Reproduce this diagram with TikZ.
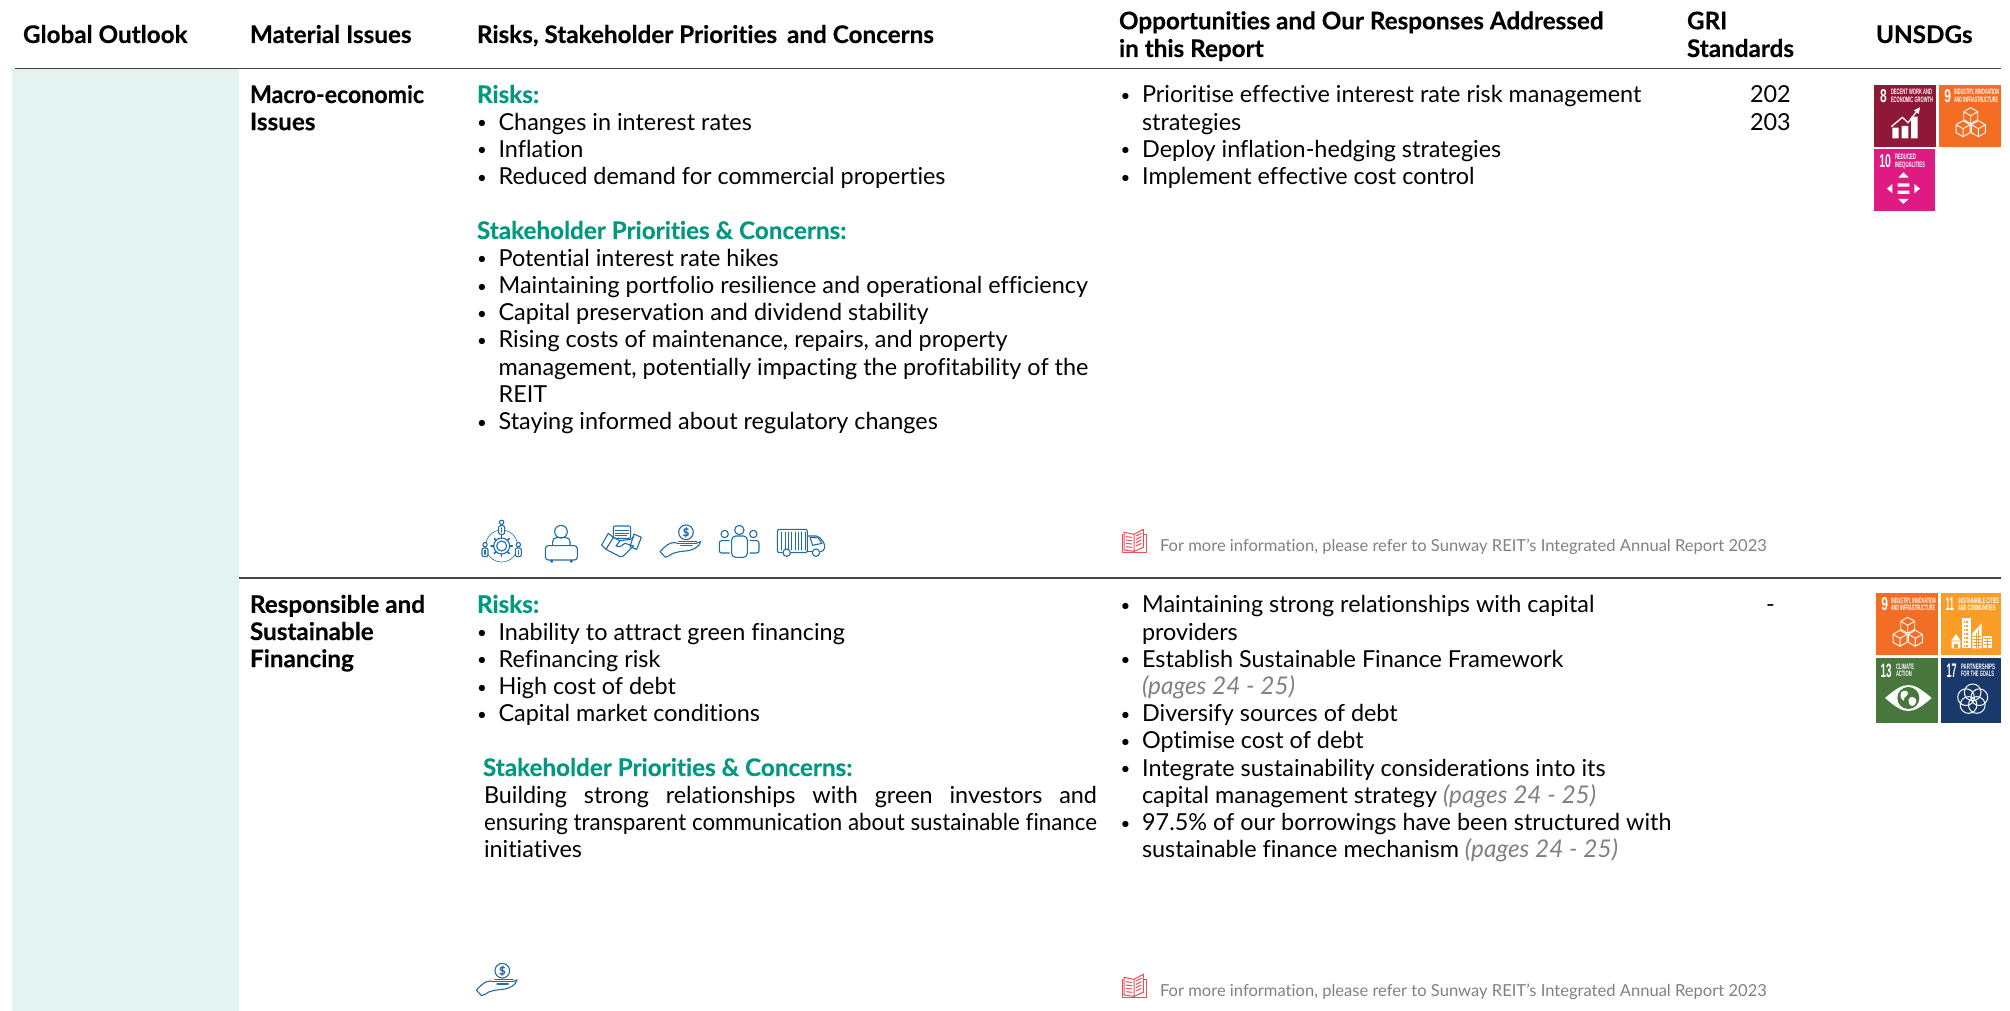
\documentclass[tikz,border=0pt]{standalone}
\usepackage{fontspec}
\setmainfont{Lato}[Ligatures=NoCommon,BoldFeatures={FakeBold=0.3}]
\newfontfamily\tilefont{Liberation Sans}
\definecolor{panelgreen}{HTML}{E4F3EF}
\definecolor{teal}{HTML}{00997F}
\definecolor{rulegrey}{HTML}{444444}
\definecolor{iconblue}{HTML}{1F6BA8}
\definecolor{bookred}{HTML}{EE4B55}
\definecolor{notegrey}{HTML}{808080}
\definecolor{sdgviii}{HTML}{8F1838}
\definecolor{sdgix}{HTML}{F36D25}
\definecolor{sdgx}{HTML}{E01A83}
\definecolor{sdgxi}{HTML}{F99D26}
\definecolor{sdgxiii}{HTML}{48773E}
\definecolor{sdgxvii}{HTML}{19396A}
\tikzset{
  txt/.style={anchor=base west,inner sep=0pt,outer sep=0pt,text=black,yshift=-1.5pt,font=\fontsize{23.4}{27}\selectfont},
  head/.style={txt,font=\fontsize{24.25}{27}\selectfont\bfseries},
  grn/.style={txt,text=teal,font=\fontsize{24.25}{27}\selectfont\bfseries},
  note/.style={txt,text=notegrey,yshift=1pt,font=\fontsize{16.55}{20}\selectfont},
  tile/.style={anchor=north west,inner sep=0pt,outer sep=0pt,draw=none},
  tiletxt/.style={anchor=base west,inner sep=0pt,outer sep=0pt,text=white,font=\tilefont\bfseries},
  rulel/.style={draw=rulegrey,line width=1.4pt},
  ico/.style={draw=iconblue,line width=1.1pt,line join=round,line cap=round},
  book/.style={draw=bookred,line width=1pt,line join=round},
  whl/.style={draw=white,line width=0.9pt},
}
% text line
\newcommand\tl[5][txt]{\node[#1] (#2) at (#3,#4) {#5};}
% bullet line
\newcommand\bl[4]{\node[txt] (#1) at (#2,#3) {\makebox[21.6pt][l]{\raisebox{1.4pt}{\scalebox{.72}{•}}}#4};}
\newcommand\pg{\textcolor{notegrey}{\fontsize{24.4}{27}\selectfont\itshape(pages 24 - 25)}}
% tile
\newcommand\tilebox[6]{\node[tile,fill=#6,minimum width=#4pt,minimum height=#5pt] (#1) at (#2,#3) {};}
\newcommand\ttx[6]{\node[tiletxt] (#1) at (#2,#3) {\resizebox{#4pt}{#5pt}{#6}};}
\newcommand\cubeat[2]{%
 \begin{scope}[shift={(#1,#2)}]
  \filldraw[fill=sdgix,draw=white,line width=0.9pt,line join=round] (0,-24)--(21,-12)--(21,12)--(0,24)--(-21,12)--(-21,-12)--cycle;
  \draw[whl] (-21,-12)--(0,0)--(21,-12) (0,0)--(0,24);
 \end{scope}}
\newcommand\cubes[2]{%
 \begin{scope}[shift={(#1,#2)},scale=1/3]
  \cubeat{0}{-21}\cubeat{-23}{18}\cubeat{23}{18}
 \end{scope}}
% hand with coin, local origin at the coin centre, zoom units
\newcommand\handcoin[3]{%
 \begin{scope}[shift={(#1,#2)},scale=1/3]
  \draw[ico] (0,0) circle (22);
  \draw[ico] (-22,27)--(32,27) (-24,33)--(30,33) (-16,40)--(18,40);
  \draw[ico] (-78,58) .. controls (-60,40) and (-50,30) .. (-35,31)
     -- (-24,33) (44,28) .. controls (40,45) and (20,52) .. (8,55)
     .. controls (-20,58) and (-40,60) .. (-50,70) -- (-62,75) -- (-78,58);
  \draw[ico] (30,33)--(44,28);
  \node[inner sep=0pt,text=iconblue,font=\fontsize{11}{11}\selectfont\bfseries] (#3) at (0,0) {\$};
 \end{scope}}
\newcommand\bookicon[2]{%
 \begin{scope}[shift={(#1,#2)},scale=1/3]
  \draw[book] (67,72)--(67,128)--(140,128)--(140,72)--(131,72);
  \draw[book] (72,67)--(102,73)--(102,124)--(72,120)--cycle;
  \draw[book] (102,73)--(130,58)--(130,112)--(102,124);
  \draw[book] (78,80)--(96,82) (78,90)--(96,92) (78,100)--(96,102) (78,110)--(96,112);
  \draw[book] (108,78)--(124,70) (108,88)--(124,80) (108,98)--(124,90) (108,108)--(124,100);
  \draw[book] (102,124)--(102,129);
 \end{scope}}
\begin{document}
\begin{tikzpicture}[x=1pt,y=-1pt]
\useasboundingbox (0,0) rectangle (2010,1011);
\fill[panelgreen] (12,68.5) rectangle (239,1011);
\coordinate (ruleAa) at (15,68.5); \coordinate (ruleAb) at (2001,68.5);
\coordinate (ruleBa) at (239,578); \coordinate (ruleBb) at (2001,578);
\draw[rulel] (ruleAa)--(ruleAb);
\draw[rulel] (ruleBa)--(ruleBb);
% headers
\tl[head]{hGlobal}{23}{41.5}{Global Outlook}
\tl[head]{hMaterial}{250}{41.5}{Material Issues}
\tl[head]{hRisks}{477}{41.5}{Risks, Stakeholder Priorities\, and Concerns}
\tl[head]{hOppA}{1119}{27.8}{Opportunities and Our Responses Addressed}
\tl[head]{hOppB}{1119}{55.5}{in this Report}
\tl[head]{hGriA}{1687}{27.8}{GRI}
\tl[head]{hGriB}{1687}{55.5}{Standards}
\tl[head]{hSdg}{1876}{41.5}{UNSDGs}
% row 1
\tl[head]{mA}{250}{101.5}{\resizebox{174pt}{\height}{Macro-economic}}
\tl[head]{mB}{250}{128.7}{Issues}
\tl[grn]{rA}{477}{101.5}{Risks:}
\bl{rA1}{477}{128.7}{Changes in interest rates}
\bl{rA2}{477}{155.9}{Inflation}
\bl{rA3}{477}{183.1}{Reduced demand for commercial properties}
\tl[grn]{sA}{477}{237.5}{Stakeholder Priorities \& Concerns:}
\bl{sA1}{477}{264.7}{Potential interest rate hikes}
\bl{sA2}{477}{291.9}{Maintaining portfolio resilience and operational efficiency}
\bl{sA3}{477}{319.1}{Capital preservation and dividend stability}
\bl{sA4}{477}{346.3}{Rising costs of maintenance, repairs, and property}
\tl{sA4b}{498.6}{373.5}{management, potentially impacting the profitability of the}
\tl{sA4c}{498.6}{400.7}{REIT}
\bl{sA5}{477}{427.9}{Staying informed about regulatory changes}
\bl{oA1}{1120.5}{101.5}{Prioritise effective interest rate risk management}
\tl{oA1b}{1142}{128.7}{strategies}
\bl{oA2}{1120.5}{155.9}{Deploy inflation-hedging strategies}
\bl{oA3}{1120.5}{183.1}{Implement effective cost control}
\tl{griA}{1750}{101.5}{202}
\tl{griB}{1750}{128.7}{203}
% row 2
\begin{scope}[yshift=-0.8pt]
\tl[head]{fA}{250}{610.5}{Responsible and}
\tl[head]{fB}{250}{637.7}{Sustainable}
\tl[head]{fC}{250}{664.9}{Financing}
\tl[grn]{rB}{477}{610.5}{Risks:}
\bl{rB1}{477}{637.7}{Inability to attract green financing}
\bl{rB2}{477}{664.9}{Refinancing risk}
\bl{rB3}{477}{692.1}{High cost of debt}
\bl{rB4}{477}{719.3}{Capital market conditions}
\tl[grn]{sB}{483}{773.7}{Stakeholder Priorities \& Concerns:}
\tl{sB1}{484}{800.9}{\hbox to 613pt{Building strong relationships with green investors and}}
\tl{sB2}{484}{828.1}{\resizebox{613pt}{\height}{ensuring transparent communication about sustainable finance}}
\tl{sB3}{484}{855.3}{initiatives}
\bl{oB1}{1120.5}{610.5}{Maintaining strong relationships with capital}
\tl{oB1b}{1142}{637.7}{providers}
\bl{oB2}{1120.5}{664.9}{Establish Sustainable Finance Framework}
\tl{oB2b}{1142}{692.1}{\pg}
\bl{oB3}{1120.5}{719.3}{Diversify sources of debt}
\bl{oB4}{1120.5}{746.5}{Optimise cost of debt}
\bl{oB5}{1120.5}{773.7}{Integrate sustainability considerations into its}
\tl{oB5b}{1142}{800.9}{capital management strategy \pg}
\bl{oB6}{1120.5}{828.1}{97.5\% of our borrowings have been structured with}
\tl{oB6b}{1142}{855.3}{sustainable finance mechanism \pg}
\tl{griC}{1766}{610.5}{-}
\end{scope}
% notes
\tl[note]{noteA}{1160}{550.5}{For more information, please refer to Sunway REIT’s Integrated Annual Report 2023}
\tl[note]{noteB}{1160}{995.5}{For more information, please refer to Sunway REIT’s Integrated Annual Report 2023}
\bookicon{1100}{510}
\bookicon{1100}{955}
% blue icons, row 1
\begin{scope}[shift={(460,500)},scale=1/3]
 % stakeholders round a gear
 \draw[ico,line width=0.6pt] (125,138) circle (48);
 \draw[ico,fill=white] (125,138) circle (24);
 \draw[ico] (125,138) circle (15);
 \foreach \a in {0,45,...,315} \draw[ico,line width=1.6pt] (125,138)++(\a:24)--++(\a:8);
 \foreach \px/\py in {125/67,75/134,175/134}{
  \draw[ico,fill=white] (\px,\py) circle (6.5);
  \draw[ico,fill=white,rounded corners=2pt] (\px-9,\py+10) rectangle (\px+9,\py+36);
  \draw[ico] (\px,\py+17)--(\px,\py+29);
 }
 % person at desk
 \draw[ico] (303,95) circle (19);
 \draw[ico] (278,137)--(278,125) .. controls (278,117) and (283,113) .. (290,113)--(318,113) .. controls (325,113) and (330,117) .. (330,125)--(330,137);
 \draw[ico,line width=1.5pt] (278,137)--(330,137);
 \draw[ico,rounded corners=3pt] (256,137) rectangle (352,180);
 \draw[ico] (275,184) circle (3) (334,184) circle (3);
 % handshake with document
 \draw[ico,rounded corners=2pt] (460,78) rectangle (512,115);
 \draw[ico] (466,92)--(506,92) (466,100)--(506,100) (466,107)--(500,107);
 \draw[ico] (425,135)--(445,100)--(460,112)--(438,148)--cycle;
 \draw[ico] (522,102)--(544,112)--(530,148)--(510,140)--cycle;
 \draw[ico] (438,148)--(480,170)--(490,168)--(520,138);
 \draw[ico] (460,112)--(480,122)--(512,118)--(522,110);
 \draw[ico] (480,122)--(468,138)--(480,140)--(495,130)--(520,138);
\end{scope}
\handcoin{686}{532.3}{coinA}
\begin{scope}[shift={(460,500)},scale=1/3]
 % three people
 \draw[ico] (838,90) circle (14) (794,102) circle (11) (880,102) circle (11);
 \draw[ico,rounded corners=4pt] (815,108) rectangle (862,172);
 \draw[ico] (808,122)--(785,122) .. controls (780,122) and (778,125) .. (778,130)--(778,152) .. controls (778,157) and (781,159) .. (786,159)--(808,159);
 \draw[ico] (870,122)--(890,122) .. controls (895,122) and (897,125) .. (897,130)--(897,152) .. controls (897,157) and (894,159) .. (889,159)--(870,159);
 % lorry
 \draw[ico,rounded corners=2pt] (968,158)--(952,158)--(952,88)--(1042,88)--(1042,158)--(992,158);
 \foreach \sx in {965,975,...,1035} \draw[ico,line width=0.8pt] (\sx,96)--(\sx,150);
 \draw[ico,rounded corners=2pt] (1042,108)--(1075,108)--(1094,130)--(1094,150)--(1082,155);
 \draw[ico] (1056,155)--(1042,155);
 \draw[ico] (1050,112)--(1075,114)--(1086,130)--(1058,136)--cycle;
 \draw[ico,fill=white] (980,158) circle (11) (1068,158) circle (11);
\end{scope}
\handcoin{502.3}{970.7}{coinB}
% SDG tiles, row 1
\tilebox{tEight}{1874}{85}{62}{61.7}{sdgviii}
\ttx{tEightN}{1880}{102.7}{6.7}{13}{8}
\ttx{tEightA}{1891}{95}{41}{5.5}{DECENT WORK AND}
\ttx{tEightB}{1891}{102.3}{42}{5.5}{ECONOMIC GROWTH}
\begin{scope}[shift={(1780,0)},scale=1/3]
 \fill[white] (337,415) rectangle (356,383) (365,415) rectangle (385,378) (393,415) rectangle (413,350);
 \draw[white,line width=1.3pt] (334,380)--(367,352)--(384,368)--(412,332);
 \fill[white] (420,322)--(402,331)--(416,342)--cycle;
\end{scope}
\tilebox{tNine}{1939}{85}{62}{61.7}{sdgix}
\ttx{tNineN}{1944.3}{102.7}{6.7}{13}{9}
\ttx{tNineA}{1954}{95}{45}{5.5}{INDUSTRY, INNOVATION}
\ttx{tNineB}{1954}{102.3}{44}{5.5}{AND INFRASTRUCTURE}
\cubes{1970.7}{122.7}
\tilebox{tTen}{1874}{149}{61}{61.7}{sdgx}
\ttx{tTenN}{1879.3}{167.7}{11.7}{13}{10}
\ttx{tTenA}{1895}{160}{21}{5.5}{REDUCED}
\ttx{tTenB}{1895}{167.2}{30}{5.5}{INEQUALITIES}
\begin{scope}[shift={(1780,0)},scale=1/3]
 \fill[white] (370,517)--(355,533)--(386,533)--cycle (355,597)--(386,597)--(370,612)--cycle
  (337,552)--(337,580)--(321,566)--cycle (403,552)--(403,580)--(420,566)--cycle;
 \fill[white] (353,550) rectangle (388,560) (353,572) rectangle (388,582);
\end{scope}
% SDG tiles, row 2
\tilebox{tNineLow}{1876}{593}{62}{62}{sdgix}
\ttx{tNineLowN}{1881.3}{610.7}{6.7}{13}{9}
\ttx{tNineLowA}{1891}{603}{45}{5.5}{INDUSTRY, INNOVATION}
\ttx{tNineLowB}{1891}{610.3}{44}{5.5}{AND INFRASTRUCTURE}
\cubes{1907.7}{632.3}
\tilebox{tEleven}{1941}{593}{60}{62}{sdgxi}
\ttx{tElevenN}{1945.7}{610.7}{8.3}{13}{11}
\ttx{tElevenA}{1958}{603}{41}{5.5}{SUSTAINABLE CITIES}
\ttx{tElevenB}{1958}{610.3}{37.7}{5.5}{AND COMMUNITIES}
\begin{scope}[shift={(1840,570)},scale=1/3]
 \fill[white] (348,192)--(333,212)--(362,212)--cycle (335,214) rectangle (361,235);
 \fill[sdgxi] (343,222) rectangle (353,235);
 \fill[white] (366,145) rectangle (392,235);
 \foreach \wy in {153,165,...,225} \foreach \wx in {371,379,...,385} \fill[sdgxi] (\wx,\wy) rectangle ++(4,5);
 \fill[white] (397,235)--(397,190)--(425,160)--(425,235)--cycle;
 \foreach \wy in {200,209,...,227} \draw[sdgxi,line width=0.6pt] (399,\wy)--(423,\wy);
 \draw[sdgxi,line width=0.6pt] (408,190)--(408,235) (416,180)--(416,235);
 \fill[white] (430,198) rectangle (456,235);
 \foreach \wy in {205,214,...,230} \draw[sdgxi,line width=0.6pt] (432,\wy)--(454,\wy);
 \draw[sdgxi,line width=0.6pt] (443,203)--(443,235);
\end{scope}
\tilebox{tThirteen}{1876}{658}{62}{65}{sdgxiii}
\ttx{tThirteenN}{1880.7}{677.3}{11}{13.5}{13}
\ttx{tThirteenA}{1896}{669}{18}{5.5}{CLIMATE}
\ttx{tThirteenB}{1896}{676.7}{15.7}{5.5}{ACTION}
\begin{scope}[shift={(1840,570)},scale=1/3]
 \fill[white] (135,384) .. controls (165,358) and (185,345) .. (205,345) .. controls (225,345) and (245,358) .. (275,384) .. controls (245,410) and (225,423) .. (205,423) .. controls (185,423) and (165,410) .. (135,384) -- cycle;
 \fill[sdgxiii] (205,384) circle (33);
 \fill[white] (183,368) .. controls (190,358) and (205,362) .. (204,370) .. controls (200,382) and (190,380) .. (192,392) .. controls (186,392) and (178,380) .. (183,368) -- cycle;
 \fill[white] (210,382) .. controls (222,378) and (232,388) .. (228,398) .. controls (222,410) and (212,410) .. (208,402) .. controls (204,394) and (204,386) .. (210,382) -- cycle;
\end{scope}
\tilebox{tSeventeen}{1941}{658}{60}{65}{sdgxvii}
\ttx{tSeventeenN}{1946.7}{677.3}{10}{13.5}{17}
\ttx{tSeventeenA}{1961}{669}{34}{5.5}{PARTNERSHIPS}
\ttx{tSeventeenB}{1961}{676.7}{33}{5.5}{FOR THE GOALS}
\begin{scope}[shift={(1840,570)},scale=1/3]
 \foreach \a in {90,162,234,306,18}
  \draw[white,line width=1pt] (398,388)++(-\a:21) circle (25);
\end{scope}
\end{tikzpicture}
\end{document}
